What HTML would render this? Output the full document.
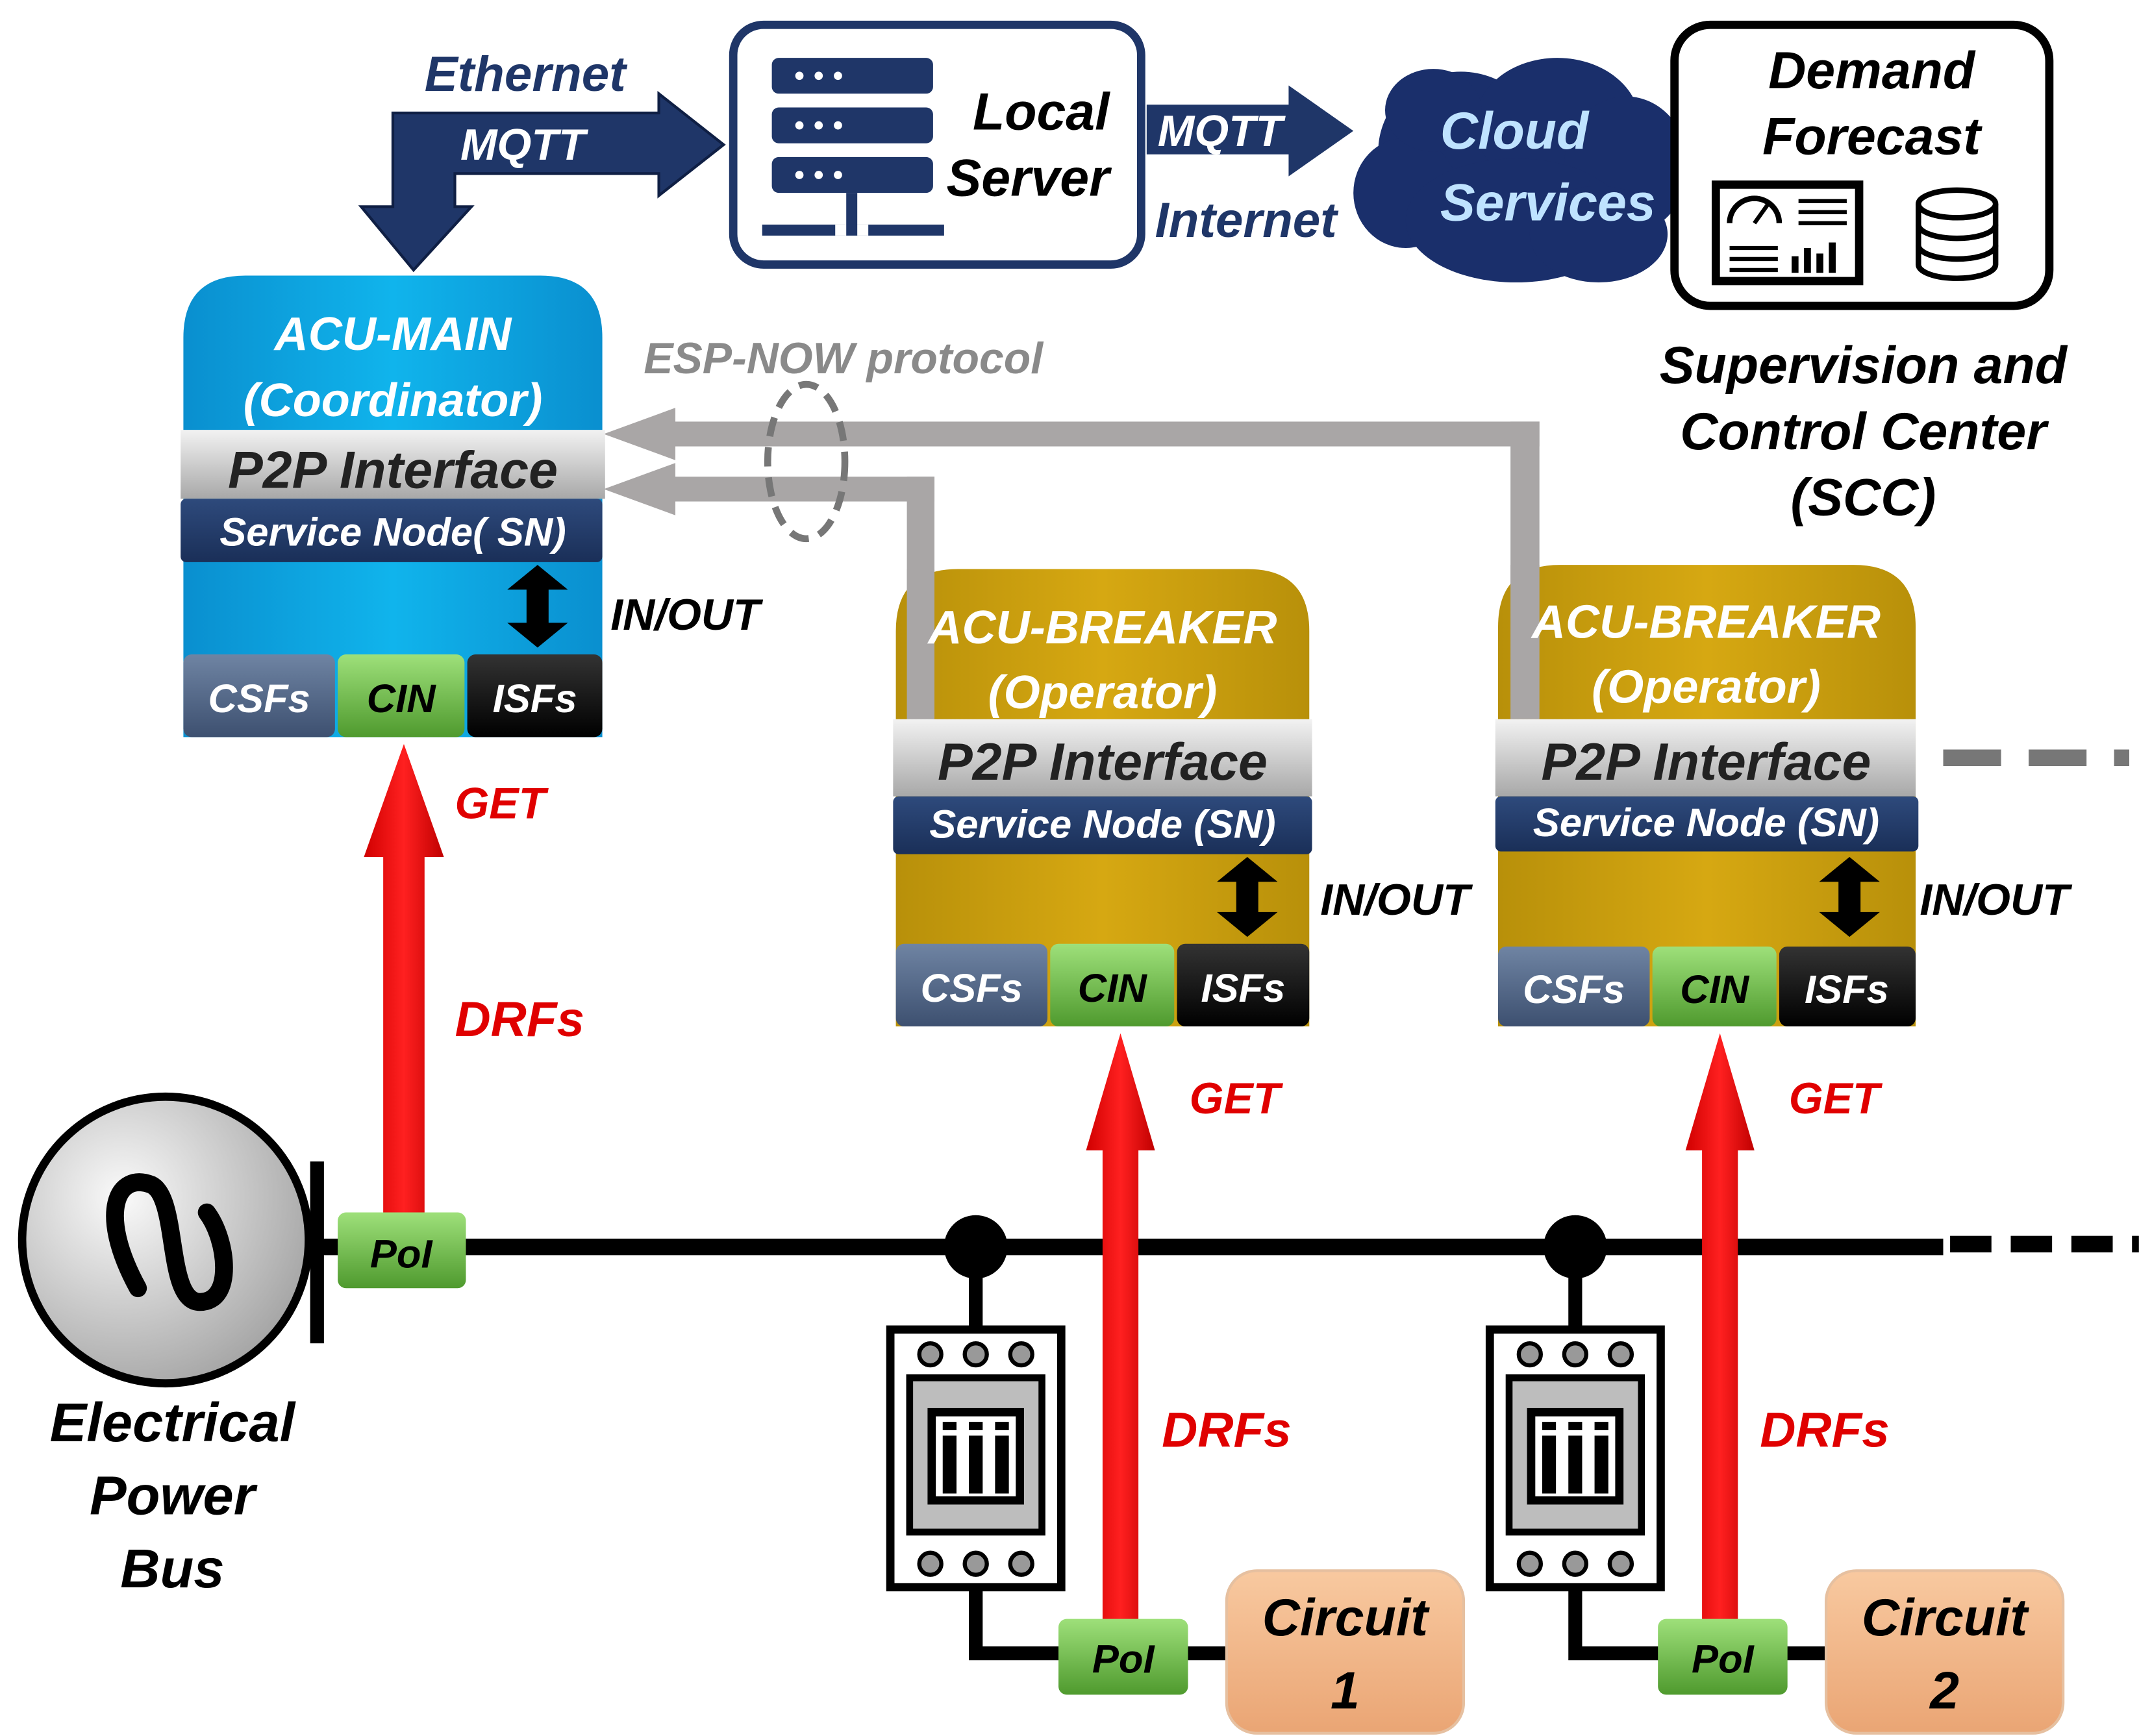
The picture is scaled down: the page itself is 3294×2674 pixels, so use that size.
<!DOCTYPE html>
<html><head><meta charset="utf-8"><style>
html,body{margin:0;padding:0;background:#fff;}
svg{display:block;}
text{font-family:"Liberation Sans","DejaVu Sans",sans-serif;font-weight:bold;font-style:italic;}
</style></head><body>
<svg width="3294" height="2674" viewBox="0 0 1552 1260" xmlns="http://www.w3.org/2000/svg">
<defs>
<linearGradient id="blue" x1="0" y1="0" x2="1" y2="0"><stop offset="0" stop-color="#0a8fcf"/><stop offset="0.5" stop-color="#10b4ec"/><stop offset="1" stop-color="#0a8fcf"/></linearGradient>
<linearGradient id="gold" x1="0" y1="0" x2="1" y2="0"><stop offset="0" stop-color="#b8900a"/><stop offset="0.5" stop-color="#d6a812"/><stop offset="1" stop-color="#b8900a"/></linearGradient>
<linearGradient id="gray" x1="0" y1="0" x2="0" y2="1"><stop offset="0" stop-color="#f2f2f2"/><stop offset="1" stop-color="#a8a8a8"/></linearGradient>
<linearGradient id="navy" x1="0" y1="0" x2="0" y2="1"><stop offset="0" stop-color="#2e4a7c"/><stop offset="1" stop-color="#1a2f58"/></linearGradient>
<linearGradient id="green" x1="0" y1="0" x2="0" y2="1"><stop offset="0" stop-color="#9ee07a"/><stop offset="1" stop-color="#4f9a2e"/></linearGradient>
<linearGradient id="slate" x1="0" y1="0" x2="0" y2="1"><stop offset="0" stop-color="#6f84a3"/><stop offset="1" stop-color="#3d5070"/></linearGradient>
<linearGradient id="blk" x1="0" y1="0" x2="0" y2="1"><stop offset="0" stop-color="#333"/><stop offset="1" stop-color="#000"/></linearGradient>
<linearGradient id="orange" x1="0" y1="0" x2="0" y2="1"><stop offset="0" stop-color="#f8c9a0"/><stop offset="1" stop-color="#eaa574"/></linearGradient>
<linearGradient id="red" x1="0" y1="0" x2="1" y2="0"><stop offset="0" stop-color="#d00000"/><stop offset="0.5" stop-color="#ff2020"/><stop offset="1" stop-color="#c00000"/></linearGradient>
<radialGradient id="gen" cx="0.35" cy="0.35" r="0.8"><stop offset="0" stop-color="#fafafa"/><stop offset="1" stop-color="#9a9a9a"/></radialGradient>
</defs>

<!-- Navy ethernet arrow -->
<path d="M285,150 L285,82 L478,82 L478,68 L525,105 L478,142 L478,126 L330,126 L330,150 L342,150 L300,196 L262,150 Z" fill="#1f3668" stroke="#0f1f44" stroke-width="2"/>
<text x="308" y="66" font-size="36" fill="#1f3668">Ethernet</text>
<text x="334" y="116" font-size="32" fill="#fff">MQTT</text>

<!-- Local server -->
<rect x="532" y="18" width="296" height="174" rx="22" fill="#fff" stroke="#1f3668" stroke-width="6"/>
<g fill="#1f3668">
<rect x="560" y="42" width="117" height="26" rx="5"/><rect x="560" y="78" width="117" height="26" rx="5"/><rect x="560" y="114" width="117" height="26" rx="5"/>
<rect x="614" y="140" width="8" height="28"/><rect x="553" y="163" width="132" height="8"/>
</g>
<g fill="#fff"><circle cx="580" cy="55" r="3"/><circle cx="594" cy="55" r="3"/><circle cx="608" cy="55" r="3"/>
<circle cx="580" cy="91" r="3"/><circle cx="594" cy="91" r="3"/><circle cx="608" cy="91" r="3"/>
<circle cx="580" cy="127" r="3"/><circle cx="594" cy="127" r="3"/><circle cx="608" cy="127" r="3"/>
<rect x="606" y="163" width="8" height="8"/><rect x="622" y="163" width="8" height="8"/></g>
<text x="805" y="94" font-size="38" fill="#000" text-anchor="end">Local</text>
<text x="805" y="142" font-size="38" fill="#000" text-anchor="end">Server</text>

<!-- MQTT internet arrow -->
<path d="M832,76 L935,76 L935,62 L982,95 L935,128 L935,112 L832,112 Z" fill="#1f3668"/>
<text x="840" y="106" font-size="32" fill="#fff">MQTT</text>
<text x="838" y="172" font-size="36" fill="#1f3668">Internet</text>

<!-- Cloud -->
<g fill="#1a2f6b">
<ellipse cx="1060" cy="110" rx="60" ry="58"/><ellipse cx="1130" cy="90" rx="60" ry="48"/><ellipse cx="1180" cy="120" rx="45" ry="50"/>
<ellipse cx="1020" cy="140" rx="38" ry="40"/><ellipse cx="1100" cy="160" rx="80" ry="45"/><ellipse cx="1160" cy="170" rx="50" ry="35"/>
<ellipse cx="1040" cy="80" rx="35" ry="30"/>
</g>
<text x="1045" y="108" font-size="38" fill="#bfe3ff">Cloud</text>
<text x="1045" y="160" font-size="38" fill="#bfe3ff">Services</text>

<!-- Demand forecast -->
<rect x="1215" y="18" width="272" height="204" rx="26" fill="#fff" stroke="#000" stroke-width="6"/>
<text x="1358" y="64" font-size="38" fill="#000" text-anchor="middle">Demand</text>
<text x="1358" y="112" font-size="38" fill="#000" text-anchor="middle">Forecast</text>
<rect x="1245" y="134" width="104" height="70" fill="#fff" stroke="#000" stroke-width="6"/>
<path d="M1255,162 A18,18 0 0 1 1291,162" fill="none" stroke="#000" stroke-width="4"/><line x1="1273" y1="162" x2="1283" y2="148" stroke="#000" stroke-width="3"/>
<g stroke="#000" stroke-width="3"><line x1="1305" y1="146" x2="1340" y2="146"/><line x1="1305" y1="154" x2="1340" y2="154"/><line x1="1305" y1="162" x2="1340" y2="162"/>
<line x1="1255" y1="180" x2="1290" y2="180"/><line x1="1255" y1="188" x2="1290" y2="188"/><line x1="1255" y1="196" x2="1290" y2="196"/></g>
<g fill="#000"><rect x="1300" y="186" width="5" height="12"/><rect x="1309" y="180" width="5" height="18"/><rect x="1318" y="184" width="5" height="14"/><rect x="1327" y="176" width="5" height="22"/></g>
<g fill="#fff" stroke="#000" stroke-width="4">
<path d="M1392,148 L1392,192 A28,10 0 0 0 1448,192 L1448,148"/>
<ellipse cx="1420" cy="148" rx="28" ry="10"/>
<path d="M1392,163 A28,10 0 0 0 1448,163" fill="none"/><path d="M1392,178 A28,10 0 0 0 1448,178" fill="none"/>
</g>
<text x="1352" y="278" font-size="38" fill="#000" text-anchor="middle">Supervision and</text>
<text x="1352" y="326" font-size="38" fill="#000" text-anchor="middle">Control Center</text>
<text x="1352" y="374" font-size="38" fill="#000" text-anchor="middle">(SCC)</text>

<!-- ESP-NOW gray lines -->
<g fill="#a9a6a6">
<rect x="470" y="306" width="647" height="18"/><rect x="1096" y="306" width="21" height="220"/>
<path d="M438,315 L490,296 L490,334 Z"/>
<rect x="470" y="346" width="208" height="18"/><rect x="658" y="346" width="20" height="100"/>
<path d="M438,355 L490,336 L490,374 Z"/>
</g>
<ellipse cx="585" cy="335" rx="28" ry="56" fill="none" stroke="#777" stroke-width="5" stroke-dasharray="14,8"/>
<text x="467" y="271" font-size="32" fill="#8a8a8a">ESP-NOW protocol</text>

<!-- ACU-MAIN -->
<path d="M133,535 L133,245 Q133,200 178,200 L392,200 Q437,200 437,245 L437,535 Z" fill="url(#blue)"/>
<text x="285" y="254" font-size="34" fill="#fff" text-anchor="middle">ACU-MAIN</text>
<text x="285" y="302" font-size="34" fill="#fff" text-anchor="middle">(Coordinator)</text>
<rect x="131" y="312" width="308" height="50" fill="url(#gray)"/>
<text x="285" y="354" font-size="38" fill="#222" text-anchor="middle">P2P Interface</text>
<rect x="131" y="362" width="306" height="46" rx="4" fill="url(#navy)"/>
<text x="285" y="396" font-size="29" fill="#fff" text-anchor="middle">Service Node( SN)</text>
<path d="M390,410 L412,428 L398,428 L398,452 L412,452 L390,470 L368,452 L382,452 L382,428 L368,428 Z" fill="#000"/>
<text x="443" y="457" font-size="32" fill="#000">IN/OUT</text>
<rect x="133" y="475" width="110" height="60" rx="6" fill="url(#slate)"/>
<rect x="245" y="475" width="92" height="60" rx="6" fill="url(#green)"/>
<rect x="339" y="475" width="98" height="60" rx="6" fill="url(#blk)"/>
<text x="188" y="517" font-size="29" fill="#fff" text-anchor="middle">CSFs</text>
<text x="291" y="517" font-size="29" fill="#000" text-anchor="middle">CIN</text>
<text x="388" y="517" font-size="29" fill="#fff" text-anchor="middle">ISFs</text>

<!-- ACU-BREAKER 1 -->
<g>
<path d="M650,745 L650,458 Q650,413 695,413 L905,413 Q950,413 950,458 L950,745 Z" fill="url(#gold)"/>
<rect x="658" y="413" width="20" height="110" fill="#a9a6a6"/>
<text x="800" y="467" font-size="34" fill="#fff" text-anchor="middle">ACU-BREAKER</text>
<text x="800" y="514" font-size="34" fill="#fff" text-anchor="middle">(Operator)</text>
<rect x="648" y="522" width="304" height="56" fill="url(#gray)"/>
<text x="800" y="566" font-size="38" fill="#222" text-anchor="middle">P2P Interface</text>
<rect x="648" y="578" width="304" height="42" rx="4" fill="url(#navy)"/>
<text x="800" y="608" font-size="29" fill="#fff" text-anchor="middle">Service Node (SN)</text>
<path d="M905,622 L927,640 L913,640 L913,662 L927,662 L905,680 L883,662 L897,662 L897,640 L883,640 Z" fill="#000"/>
<text x="958" y="664" font-size="32" fill="#000">IN/OUT</text>
<rect x="650" y="685" width="110" height="60" rx="6" fill="url(#slate)"/>
<rect x="762" y="685" width="90" height="60" rx="6" fill="url(#green)"/>
<rect x="854" y="685" width="96" height="60" rx="6" fill="url(#blk)"/>
<text x="705" y="727" font-size="29" fill="#fff" text-anchor="middle">CSFs</text>
<text x="807" y="727" font-size="29" fill="#000" text-anchor="middle">CIN</text>
<text x="902" y="727" font-size="29" fill="#fff" text-anchor="middle">ISFs</text>
</g>
<!-- ACU-BREAKER 2 -->
<g>
<path d="M1087,745 L1087,455 Q1087,410 1132,410 L1345,410 Q1390,410 1390,455 L1390,745 Z" fill="url(#gold)"/>
<rect x="1096" y="410" width="21" height="112" fill="#a9a6a6"/>
<text x="1238" y="463" font-size="34" fill="#fff" text-anchor="middle">ACU-BREAKER</text>
<text x="1238" y="510" font-size="34" fill="#fff" text-anchor="middle">(Operator)</text>
<rect x="1085" y="522" width="305" height="56" fill="url(#gray)"/>
<text x="1238" y="566" font-size="38" fill="#222" text-anchor="middle">P2P Interface</text>
<rect x="1085" y="578" width="307" height="40" rx="4" fill="url(#navy)"/>
<text x="1238" y="607" font-size="29" fill="#fff" text-anchor="middle">Service Node (SN)</text>
<path d="M1342,622 L1364,640 L1350,640 L1350,662 L1364,662 L1342,680 L1320,662 L1334,662 L1334,640 L1320,640 Z" fill="#000"/>
<text x="1393" y="664" font-size="32" fill="#000">IN/OUT</text>
<rect x="1087" y="687" width="110" height="58" rx="6" fill="url(#slate)"/>
<rect x="1199" y="687" width="90" height="58" rx="6" fill="url(#green)"/>
<rect x="1291" y="687" width="99" height="58" rx="6" fill="url(#blk)"/>
<text x="1142" y="728" font-size="29" fill="#fff" text-anchor="middle">CSFs</text>
<text x="1244" y="728" font-size="29" fill="#000" text-anchor="middle">CIN</text>
<text x="1340" y="728" font-size="29" fill="#fff" text-anchor="middle">ISFs</text>
</g>
<line x1="1410" y1="550" x2="1545" y2="550" stroke="#777" stroke-width="12" stroke-dasharray="42,20"/>

<!-- Bus -->
<line x1="230" y1="905" x2="1410" y2="905" stroke="#000" stroke-width="12"/>
<line x1="1415" y1="903" x2="1552" y2="903" stroke="#000" stroke-width="12" stroke-dasharray="30,14"/>
<rect x="225" y="843" width="10" height="132" fill="#000"/>
<circle cx="120" cy="900" r="104" fill="url(#gen)" stroke="#000" stroke-width="6"/>
<path d="M100,935 C70,880 85,850 110,860 C130,870 120,945 145,945 C170,945 165,900 150,880" fill="none" stroke="#000" stroke-width="13" stroke-linecap="round"/>
<text x="125" y="1046" font-size="40" fill="#000" text-anchor="middle">Electrical</text>
<text x="125" y="1099" font-size="40" fill="#000" text-anchor="middle">Power</text>
<text x="125" y="1152" font-size="40" fill="#000" text-anchor="middle">Bus</text>

<!-- Red arrows -->
<path d="M278,880 L278,622 L264,622 L293,540 L322,622 L308,622 L308,880 Z" fill="url(#red)"/>
<text x="330" y="594" font-size="32" fill="#e00000">GET</text>
<text x="330" y="752" font-size="36" fill="#e00000">DRFs</text>
<path d="M800,1178 L800,835 L788,835 L813,750 L838,835 L826,835 L826,1178 Z" fill="url(#red)"/>
<text x="863" y="808" font-size="32" fill="#e00000">GET</text>
<text x="843" y="1050" font-size="36" fill="#e00000">DRFs</text>
<path d="M1235,1178 L1235,835 L1223,835 L1248,750 L1273,835 L1261,835 L1261,1178 Z" fill="url(#red)"/>
<text x="1298" y="808" font-size="32" fill="#e00000">GET</text>
<text x="1277" y="1050" font-size="36" fill="#e00000">DRFs</text>

<!-- PoI main -->
<rect x="245" y="880" width="93" height="55" rx="6" fill="url(#green)"/>
<text x="291" y="920" font-size="29" fill="#000" text-anchor="middle">PoI</text>

<!-- Branches -->
<g id="br1">
<circle cx="708" cy="905" r="23" fill="#000"/>
<line x1="708" y1="905" x2="708" y2="965" stroke="#000" stroke-width="10"/>
<rect x="646" y="965" width="124" height="187" fill="#fff" stroke="#000" stroke-width="6"/>
<rect x="660" y="1000" width="96" height="112" fill="#bdbdbd" stroke="#000" stroke-width="5"/>
<rect x="676" y="1025" width="64" height="64" fill="#fff" stroke="#000" stroke-width="6"/>
<g fill="#000"><rect x="684" y="1042" width="10" height="42"/><rect x="703" y="1042" width="10" height="42"/><rect x="722" y="1042" width="10" height="42"/><rect x="684" y="1032" width="10" height="6"/><rect x="703" y="1032" width="10" height="6"/><rect x="722" y="1032" width="10" height="6"/></g>
<g fill="#999" stroke="#000" stroke-width="3"><circle cx="675" cy="983" r="8"/><circle cx="708" cy="983" r="8"/><circle cx="741" cy="983" r="8"/><circle cx="675" cy="1135" r="8"/><circle cx="708" cy="1135" r="8"/><circle cx="741" cy="1135" r="8"/></g>
<path d="M708,1152 L708,1200 L895,1200" fill="none" stroke="#000" stroke-width="10"/>
<rect x="768" y="1175" width="94" height="55" rx="6" fill="url(#green)"/>
<text x="815" y="1214" font-size="29" fill="#000" text-anchor="middle">PoI</text>
<rect x="890" y="1140" width="172" height="118" rx="22" fill="url(#orange)" stroke="#e6c0a0" stroke-width="2"/>
<text x="976" y="1187" font-size="38" fill="#000" text-anchor="middle">Circuit</text>
<text x="976" y="1240" font-size="38" fill="#000" text-anchor="middle">1</text>
</g>
<g transform="translate(435,0)">
<circle cx="708" cy="905" r="23" fill="#000"/>
<line x1="708" y1="905" x2="708" y2="965" stroke="#000" stroke-width="10"/>
<rect x="646" y="965" width="124" height="187" fill="#fff" stroke="#000" stroke-width="6"/>
<rect x="660" y="1000" width="96" height="112" fill="#bdbdbd" stroke="#000" stroke-width="5"/>
<rect x="676" y="1025" width="64" height="64" fill="#fff" stroke="#000" stroke-width="6"/>
<g fill="#000"><rect x="684" y="1042" width="10" height="42"/><rect x="703" y="1042" width="10" height="42"/><rect x="722" y="1042" width="10" height="42"/><rect x="684" y="1032" width="10" height="6"/><rect x="703" y="1032" width="10" height="6"/><rect x="722" y="1032" width="10" height="6"/></g>
<g fill="#999" stroke="#000" stroke-width="3"><circle cx="675" cy="983" r="8"/><circle cx="708" cy="983" r="8"/><circle cx="741" cy="983" r="8"/><circle cx="675" cy="1135" r="8"/><circle cx="708" cy="1135" r="8"/><circle cx="741" cy="1135" r="8"/></g>
<path d="M708,1152 L708,1200 L895,1200" fill="none" stroke="#000" stroke-width="10"/>
<rect x="768" y="1175" width="94" height="55" rx="6" fill="url(#green)"/>
<text x="815" y="1214" font-size="29" fill="#000" text-anchor="middle">PoI</text>
<rect x="890" y="1140" width="172" height="118" rx="22" fill="url(#orange)" stroke="#e6c0a0" stroke-width="2"/>
<text x="976" y="1187" font-size="38" fill="#000" text-anchor="middle">Circuit</text>
<text x="976" y="1240" font-size="38" fill="#000" text-anchor="middle">2</text>
</g>
</svg>
</body></html>
